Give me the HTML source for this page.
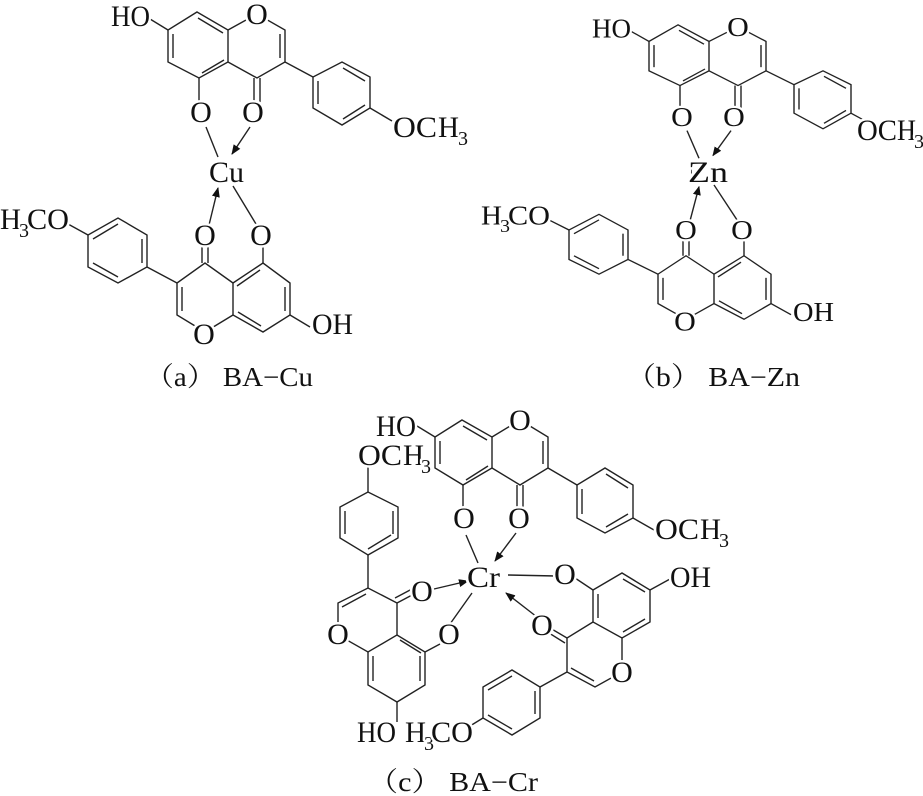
<!DOCTYPE html>
<html><head><meta charset="utf-8"><style>
html,body{margin:0;padding:0;background:#fff;}
svg{display:block;}
.b line,.b polyline,.b polygon{stroke:#222;stroke-width:1.4;fill:none;}
text{font-family:"Liberation Serif","Noto Serif CJK SC",serif;font-size:30px;fill:#111;stroke:#fff;stroke-width:5px;paint-order:stroke;stroke-linejoin:round;}
.m{text-anchor:middle;}
.s{font-size:20px;}
.cap{stroke:none;font-size:27px;}
.w{fill:#fff;stroke:none;}
</style></head><body>
<svg width="923" height="796" viewBox="0 0 923 796" xmlns="http://www.w3.org/2000/svg">
<defs>
<marker id="ar" markerWidth="10" markerHeight="8" refX="9" refY="4" orient="auto" markerUnits="userSpaceOnUse"><path d="M0,0 L10,4 L0,8 Z" fill="#111"/></marker>
<g id="mol">
 <g class="b">
  <polygon points="197,12 228,30 228,62 199,78 168,62 168,30"/>
  <line x1="173" y1="34" x2="173" y2="58"/>
  <line x1="198" y1="18" x2="223" y2="33"/>
  <line x1="202" y1="73" x2="224" y2="60"/>
  <polyline points="228,30 257,14 285,30 285,62 257,78 228,62"/>
  <line x1="280" y1="34" x2="280" y2="58"/>
  <line x1="254" y1="78" x2="254" y2="105"/>
  <line x1="260" y1="78" x2="260" y2="105"/>
  <line x1="199" y1="78" x2="199" y2="105"/>
  <line x1="168" y1="30" x2="150" y2="19"/>
  <line x1="285" y1="62" x2="313" y2="77"/>
  <polygon points="313,77 313,108 342,125 370,108 370,77 342,62"/>
  <line x1="318" y1="81" x2="318" y2="104"/>
  <line x1="343" y1="119" x2="365" y2="105"/>
  <line x1="343" y1="68" x2="365" y2="81"/>
  <line x1="370" y1="108" x2="392" y2="121"/>
  <line x1="206" y1="127" x2="218" y2="157"/>
  <line x1="250" y1="127" x2="232" y2="154" marker-end="url(#ar)"/>
  <line x1="209" y1="225" x2="218" y2="188" marker-end="url(#ar)"/>
  <line x1="233" y1="186" x2="256" y2="224"/>
  <line x1="202" y1="247" x2="202" y2="263"/>
  <line x1="208" y1="247" x2="208" y2="263"/>
  <line x1="263" y1="247" x2="263" y2="263"/>
  <polygon points="233,283 263,263 290,283 290,315 263,332 233,315"/>
  <line x1="237" y1="286" x2="260" y2="270"/>
  <line x1="285" y1="287" x2="285" y2="311"/>
  <line x1="238" y1="312" x2="261" y2="326"/>
  <polyline points="233,283 205,263 177,283 177,315 205,332 233,315"/>
  <line x1="182" y1="287" x2="182" y2="311"/>
  <line x1="290" y1="315" x2="310" y2="327"/>
  <line x1="177" y1="283" x2="147" y2="267"/>
  <polygon points="147,267 147,235 118,218 88,235 88,267 118,283"/>
  <line x1="142" y1="239" x2="142" y2="263"/>
  <line x1="118" y1="224" x2="93" y2="239"/>
  <line x1="118" y1="277" x2="93" y2="263"/>
  <line x1="88" y1="235" x2="68" y2="224"/>
 </g>
 <circle class="w" cx="257" cy="14" r="11"/>
 <circle class="w" cx="204" cy="333" r="11"/>
 <text x="111" y="26" textLength="39" lengthAdjust="spacingAndGlyphs">HO</text>
 <text class="m" x="257" y="24">O</text>
 <text class="m" x="201" y="122">O</text>
 <text class="m" x="253" y="122">O</text>
 <text x="209" y="182" textLength="35" lengthAdjust="spacingAndGlyphs">Cu</text>
 <text class="m" x="205" y="245">O</text>
 <text class="m" x="261" y="245">O</text>
 <text x="0" y="229" textLength="21" lengthAdjust="spacingAndGlyphs">H</text>
 <text class="s" x="19" y="237">3</text>
 <text x="27" y="229" textLength="42" lengthAdjust="spacingAndGlyphs">CO</text>
 <text class="m" x="204" y="344">O</text>
 <text x="312" y="334" textLength="41" lengthAdjust="spacingAndGlyphs">OH</text>
</g>
</defs>

<use href="#mol"/>
<text x="393" y="137" textLength="44" lengthAdjust="spacingAndGlyphs">OC</text>
<text x="438" y="137" textLength="21" lengthAdjust="spacingAndGlyphs">H</text>
<text class="s" x="458" y="145">3</text>
<text class="cap" x="145" y="386" textLength="168" lengthAdjust="spacingAndGlyphs">（a） BA−Cu</text>

<g transform="translate(481,13.8) scale(1,0.92)">
 <use href="#mol"/>
</g>
<text x="857" y="140" textLength="40" lengthAdjust="spacingAndGlyphs">OC</text>
<text x="897" y="140" textLength="19" lengthAdjust="spacingAndGlyphs">H</text>
<text class="s" x="914" y="148">3</text>
<rect x="692" y="162" width="34" height="22" fill="#fff"/>
<text x="688" y="182" textLength="40" lengthAdjust="spacingAndGlyphs">Zn</text>
<text class="cap" x="626" y="386" textLength="174" lengthAdjust="spacingAndGlyphs">（b） BA−Zn</text>

<g class="b">
 <polygon points="462,420 492,437 492,468 463,485 435,468 435,437"/>
 <line x1="440" y1="441" x2="440" y2="464"/>
 <line x1="463" y1="426" x2="487" y2="440"/>
 <line x1="466" y1="480" x2="488" y2="466"/>
 <polyline points="492,437 520,420 548,437 548,468 520,485 492,468"/>
 <line x1="543" y1="441" x2="543" y2="464"/>
 <line x1="517" y1="485" x2="517" y2="510"/>
 <line x1="523" y1="485" x2="523" y2="510"/>
 <line x1="463" y1="485" x2="463" y2="510"/>
 <line x1="435" y1="437" x2="417" y2="426"/>
 <line x1="548" y1="468" x2="577" y2="485"/>
 <polygon points="577,485 577,518 605,533 633,518 633,485 605,468"/>
 <line x1="582" y1="489" x2="582" y2="514"/>
 <line x1="606" y1="527" x2="628" y2="514"/>
 <line x1="606" y1="474" x2="628" y2="488"/>
 <line x1="633" y1="518" x2="654" y2="530"/>
 <line x1="466" y1="535" x2="478" y2="563"/>
 <line x1="516" y1="533" x2="495" y2="561" marker-end="url(#ar)"/>
 <line x1="508" y1="575" x2="556" y2="576"/>
 <line x1="434" y1="589" x2="468" y2="581" marker-end="url(#ar)"/>
 <line x1="450" y1="624" x2="472" y2="593"/>
 <line x1="537" y1="617" x2="506" y2="593" marker-end="url(#ar)"/>
 <line x1="575" y1="578" x2="593" y2="590"/>
 <polygon points="593,590 622,573 650,590 650,622 622,638 593,622"/>
 <line x1="598" y1="594" x2="598" y2="618"/>
 <line x1="623" y1="579" x2="645" y2="592"/>
 <line x1="623" y1="632" x2="645" y2="619"/>
 <line x1="650" y1="590" x2="670" y2="579"/>
 <polyline points="622,638 622,672 595,687 567,672 567,638 593,622"/>
 <line x1="594" y1="681" x2="571" y2="668"/>
 <line x1="567" y1="638" x2="550" y2="628"/>
 <line x1="565" y1="643" x2="549" y2="633"/>
 <line x1="567" y1="672" x2="540" y2="687"/>
 <polygon points="540,687 540,718 512,735 483,718 483,687 512,670"/>
 <line x1="535" y1="691" x2="535" y2="714"/>
 <line x1="512" y1="729" x2="488" y2="715"/>
 <line x1="512" y1="676" x2="488" y2="690"/>
 <line x1="483" y1="718" x2="470" y2="726"/>
 <line x1="397" y1="603" x2="414" y2="594"/>
 <line x1="395" y1="598" x2="412" y2="589"/>
 <polygon points="397,603 368,588 338,603 338,635 368,652 397,635"/>
 <line x1="366" y1="594" x2="342" y2="607"/>
 <polyline points="397,635 425,652 425,685 397,702 368,685 368,652"/>
 <line x1="400" y1="640" x2="421" y2="653"/>
 <line x1="420" y1="656" x2="420" y2="681"/>
 <line x1="373" y1="656" x2="373" y2="681"/>
 <line x1="425" y1="652" x2="440" y2="644"/>
 <line x1="397" y1="702" x2="397" y2="722"/>
 <line x1="368" y1="588" x2="368" y2="555"/>
 <polygon points="368,555 398,538 398,507 368,492 340,507 340,538"/>
 <line x1="393" y1="511" x2="393" y2="534"/>
 <line x1="345" y1="511" x2="345" y2="534"/>
 <line x1="368" y1="549" x2="391" y2="535"/>
 <line x1="368" y1="492" x2="368" y2="466"/>
</g>
<circle class="w" cx="520" cy="420" r="11"/>
<circle class="w" cx="622" cy="672" r="11"/>
<circle class="w" cx="338" cy="634" r="11"/>
<text x="376" y="436" textLength="40" lengthAdjust="spacingAndGlyphs">HO</text>
<text class="m" x="520" y="430">O</text>
<text class="m" x="464" y="528">O</text>
<text class="m" x="519" y="528">O</text>
<text x="655" y="539" textLength="44" lengthAdjust="spacingAndGlyphs">OC</text>
<text x="700" y="539" textLength="21" lengthAdjust="spacingAndGlyphs">H</text>
<text class="s" x="719" y="547">3</text>
<text x="358" y="465" textLength="44" lengthAdjust="spacingAndGlyphs">OC</text>
<text x="403" y="465" textLength="21" lengthAdjust="spacingAndGlyphs">H</text>
<text class="s" x="421" y="473">3</text>
<text x="467" y="587" textLength="33" lengthAdjust="spacingAndGlyphs">Cr</text>
<text class="m" x="565" y="584">O</text>
<text x="670" y="587" textLength="41" lengthAdjust="spacingAndGlyphs">OH</text>
<text class="m" x="542" y="635">O</text>
<text class="m" x="622" y="682">O</text>
<text class="m" x="422" y="601">O</text>
<text class="m" x="449" y="644">O</text>
<text class="m" x="338" y="644">O</text>
<text x="357" y="742" textLength="39" lengthAdjust="spacingAndGlyphs">HO</text>
<text x="405" y="742" textLength="21" lengthAdjust="spacingAndGlyphs">H</text>
<text class="s" x="424" y="750">3</text>
<text x="431" y="742" textLength="42" lengthAdjust="spacingAndGlyphs">CO</text>
<text class="cap" x="368" y="791" textLength="170" lengthAdjust="spacingAndGlyphs">（c） BA−Cr</text>
</svg>
</body></html>
